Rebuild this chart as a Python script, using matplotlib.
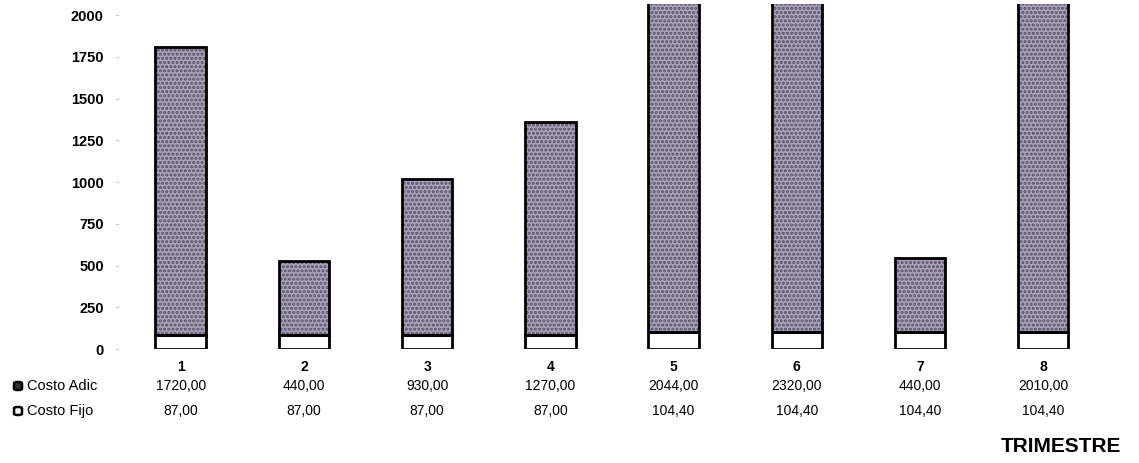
import numpy as np
import matplotlib.pyplot as plt
from matplotlib.patches import FancyBboxPatch

trimestres = ["1", "2", "3", "4", "5", "6", "7", "8"]
costo_fijo = [87.00, 87.00, 87.00, 87.00, 104.40, 104.40, 104.40, 104.40]
costo_adic = [1720.00, 440.00, 930.00, 1270.00, 2044.00, 2320.00, 440.00, 2010.00]
y_ticks = [0, 250, 500, 750, 1000, 1250, 1500, 1750, 2000]

plt.rcParams["font.family"] = ["Liberation Sans", "DejaVu Sans"]
plt.rcParams["hatch.linewidth"] = 1.5

fig = plt.figure(figsize=(11.39, 4.63), dpi=100)
ax = fig.add_axes([0.1045, 0.246, 0.8655, 0.745])

x = np.arange(1, len(trimestres) + 1)
w = 0.41

# fixed cost: white box at the bottom
ax.bar(x, costo_fijo, width=w, color="white", edgecolor="black", linewidth=2, zorder=3)
# additional cost: speckled fill
ax.bar(x, costo_adic, width=w, bottom=costo_fijo, color="#aaa3b6",
       edgecolor="#574d6b", hatch="....", linewidth=0, zorder=2)
ax.bar(x, costo_adic, width=w, bottom=costo_fijo, fill=False,
       edgecolor="black", linewidth=2, zorder=3)

ax.set_xlim(0.5, 8.5)
ax.set_ylim(0, 2065)
ax.set_yticks(y_ticks)
ax.set_yticklabels([str(t) for t in y_ticks], fontsize=10.5, fontweight="bold")
ax.tick_params(axis="y", length=3, color="#cccccc", pad=8)
ax.set_xticks([])
for s in ax.spines.values():
    s.set_visible(False)

# category labels and data table
tr = ax.get_xaxis_transform()
for xi, lab, a, f in zip(x, trimestres, costo_adic, costo_fijo):
    ax.text(xi, -0.052, lab, transform=tr, ha="center", va="center",
            fontsize=10, fontweight="bold", clip_on=False)
    ax.text(xi, -0.108, ("%.2f" % a).replace(".", ","), transform=tr,
            ha="center", va="center", fontsize=10, clip_on=False)
    ax.text(xi, -0.180, ("%.2f" % f).replace(".", ","), transform=tr,
            ha="center", va="center", fontsize=10, clip_on=False)

# row labels with small legend boxes
rows = [("Costo Adic", 1 - 386 / 463, "#333333"), ("Costo Fijo", 1 - 411 / 463, "white")]
for name, yy, fc in rows:
    fig.patches.append(FancyBboxPatch((14 / 1139, yy - 4 / 463), 8 / 1139, 8 / 463,
                                      boxstyle="round,pad=0.0,rounding_size=0.003",
                                      transform=fig.transFigure, facecolor=fc,
                                      edgecolor="black", linewidth=1.8))
    fig.text(27 / 1139, yy, name, ha="left", va="center", fontsize=10.5)

fig.text(1061 / 1139, 1 - 446 / 463, "TRIMESTRE", ha="center", va="center",
         fontsize=15, fontweight="bold")

fig.savefig("out.png", dpi=100)
